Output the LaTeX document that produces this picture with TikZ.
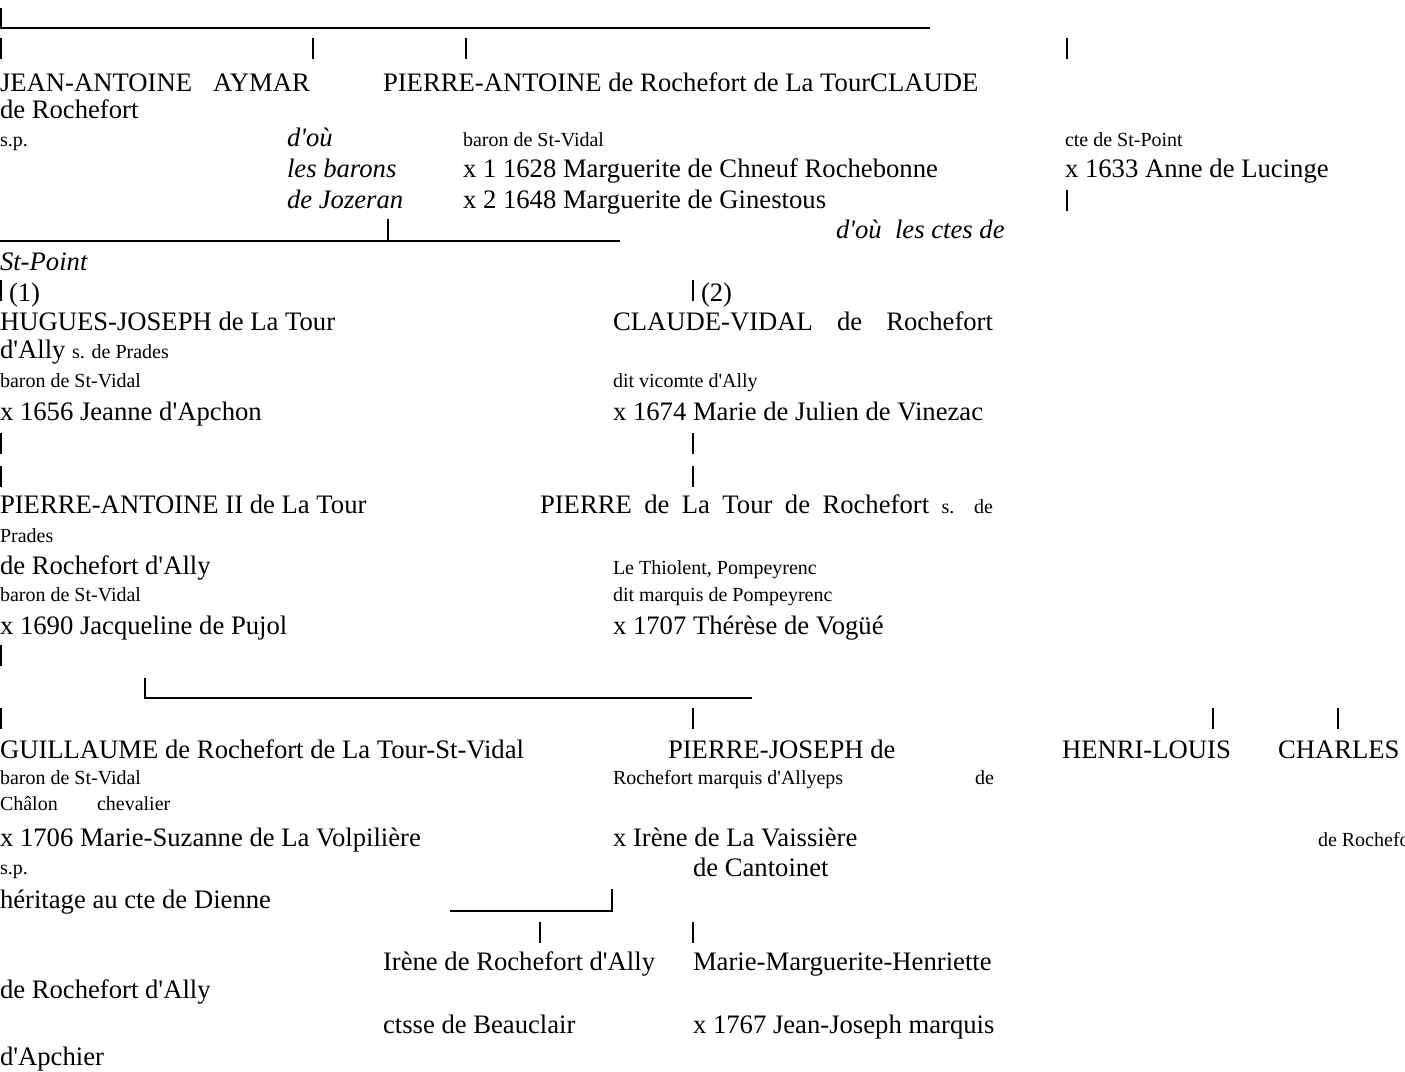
\documentclass[tikz,border=0pt]{standalone}
\usepackage{fontspec}
\setmainfont{Liberation Serif}[Ligatures=TeXOff]
\newcommand{\petit}{\fontsize{9}{11}\selectfont}
\begin{document}
\begin{tikzpicture}[x=0.45pt,y=-0.45pt]
\tikzset{nom/.style={anchor=base west, inner sep=0pt, outer sep=0pt, font=\fontsize{12}{14}\selectfont},
  note/.style={nom, font=\petit},
  ital/.style={nom, font=\fontsize{12}{14}\selectfont\itshape},
  trait/.style={line width=0.55pt}}
\useasboundingbox (0,0) rectangle (1405,1071);
\clip (0,0) rectangle (1405,1071);
\coordinate (haut) at (1,8);
\coordinate (hautfin) at (930,28);
\draw[trait] (haut) |- (hautfin);
\foreach \x/\n in {1/a,313/b,466/c,1067/d} {
  \coordinate (fils\n) at (\x,38);
  \draw[trait] (fils\n) -- ++(0,21);
}
\node[nom] (jean) at (0,91) {JEAN-ANTOINE};
\node[nom] (jean2) at (0,118) {de Rochefort};
\node[note] (jeansp) at (0,146) {s.p.};
\node[nom] (aymar) at (213,91) {AYMAR};
\node[ital] (aymar1) at (287,146) {d'où};
\node[ital] (aymar2) at (287,177) {les barons};
\node[ital] (aymar3) at (287,208) {de Jozeran};
\node[nom] (pierre) at (383,91) {PIERRE-ANTOINE de Rochefort de La TourCLAUDE};
\node[note] (pierre1) at (463,146) {baron de St-Vidal};
\node[nom] (pierre2) at (463,177) {x 1 1628 Marguerite de Chneuf Rochebonne};
\node[nom] (pierre3) at (463,208) {x 2 1648 Marguerite de Ginestous};
\node[note] (claude1) at (1065,146) {cte de St-Point};
\node[nom] (claude2) at (1065,177) {x 1633 Anne de Lucinge};
\coordinate (claudebas) at (1067,190);
\draw[trait] (claudebas) -- ++(0,21);
\node[ital] (ctes) at (836,238) {d'où\ \ les ctes de};
\node[ital] (ctes2) at (0,270) {St-Point};
\coordinate (unionG) at (0,241);
\coordinate (union) at (388,219);
\coordinate (unionD) at (620,241);
\draw[trait] (unionG) -- (unionD);
\draw[trait] (union) -- (union |- unionG);
\coordinate (lit1) at (1,280);
\coordinate (lit2) at (693,280);
\draw[trait] (lit1) -- ++(0,21);
\draw[trait] (lit2) -- ++(0,21);
\node[nom] (un) at (9,301) {(1)};
\node[nom] (deux) at (701,301) {(2)};
\node[nom] (hugues) at (0,330) {HUGUES-JOSEPH de La Tour};
\node[nom] (hugues1) at (0,358) {d'Ally {\petit s. de Prades}};
\node[note] (hugues2) at (0,387) {baron de St-Vidal};
\node[nom] (hugues3) at (0,420) {x 1656 Jeanne d'Apchon};
\node[nom] (cv) at (613,330) {\makebox[171pt][s]{CLAUDE-VIDAL de Rochefort}};
\node[note] (cv1) at (613,387) {dit vicomte d'Ally};
\node[nom] (cv2) at (613,420) {x 1674 Marie de Julien de Vinezac};
\foreach \x/\n in {1/a,693/b} {
  \coordinate (g3\n) at (\x,433);
  \draw[trait] (g3\n) -- ++(0,21);
  \coordinate (g3\n b) at (\x,466);
  \draw[trait] (g3\n b) -- ++(0,21);
}
\node[nom] (pa) at (0,513) {PIERRE-ANTOINE II de La Tour};
\node[note] (pa1) at (0,542) {Prades};
\node[nom] (pa2) at (0,574) {de Rochefort d'Ally};
\node[note] (pa3) at (0,601) {baron de St-Vidal};
\node[nom] (pa4) at (0,634) {x 1690 Jacqueline de Pujol};
\node[nom] (pt) at (540,513) {\makebox[203.8pt][s]{PIERRE de La Tour de Rochefort {\petit s. de}}};
\node[note] (pt1) at (613,574) {Le Thiolent, Pompeyrenc};
\node[note] (pt2) at (613,601) {dit marquis de Pompeyrenc};
\node[nom] (pt3) at (613,634) {x 1707 Thérèse de Vogüé};
\coordinate (pabas) at (1,645);
\draw[trait] (pabas) -- ++(0,21);
\coordinate (frere) at (145,678);
\coordinate (frerefin) at (752,698);
\draw[trait] (frere) |- (frerefin);
\foreach \x/\n in {1/a,693/b,1213/c,1338/d} {
  \coordinate (g4\n) at (\x,708);
  \draw[trait] (g4\n) -- ++(0,21);
}
\node[nom] (guil) at (0,758) {GUILLAUME de Rochefort de La Tour-St-Vidal};
\node[note] (guil1) at (0,784) {baron de St-Vidal};
\node[note] (guil2) at (0,810) {Châlon};
\node[nom] (guil3) at (0,846) {x 1706 Marie-Suzanne de La Volpilière};
\node[note] (guil4) at (0,874) {s.p.};
\node[nom] (guil5) at (0,908) {héritage au cte de Dienne};
\node[nom] (pj) at (668,758) {PIERRE-JOSEPH de};
\node[note] (pj1) at (613,784) {Rochefort marquis d'Allyeps};
\node[note] (pj2) at (975,784) {de};
\node[nom] (pj3) at (613,846) {x Irène de La Vaissière};
\node[nom] (pj4) at (693,876) {de Cantoinet};
\node[nom] (hl) at (1062,758) {HENRI-LOUIS};
\node[note] (hl1) at (97,810) {chevalier};
\node[nom] (ch) at (1278,758) {CHARLES};
\node[note] (ch1) at (1318,846) {de Rochefort};
\coordinate (filles) at (450,911);
\coordinate (fillesfin) at (612,889);
\draw[trait] (filles) -| (fillesfin);
\foreach \x/\n in {540/a,693/b} {
  \coordinate (g5\n) at (\x,922);
  \draw[trait] (g5\n) -- ++(0,21);
}
\node[nom] (irene) at (383,970) {Irène de Rochefort d'Ally};
\node[nom] (irene1) at (383,1033) {ctsse de Beauclair};
\node[nom] (mm) at (693,970) {Marie-Marguerite-Henriette};
\node[nom] (mm1) at (0,998) {de Rochefort d'Ally};
\node[nom] (mm2) at (693,1033) {x 1767 Jean-Joseph marquis};
\node[nom] (mm3) at (0,1065) {d'Apchier};
\end{tikzpicture}
\end{document}
